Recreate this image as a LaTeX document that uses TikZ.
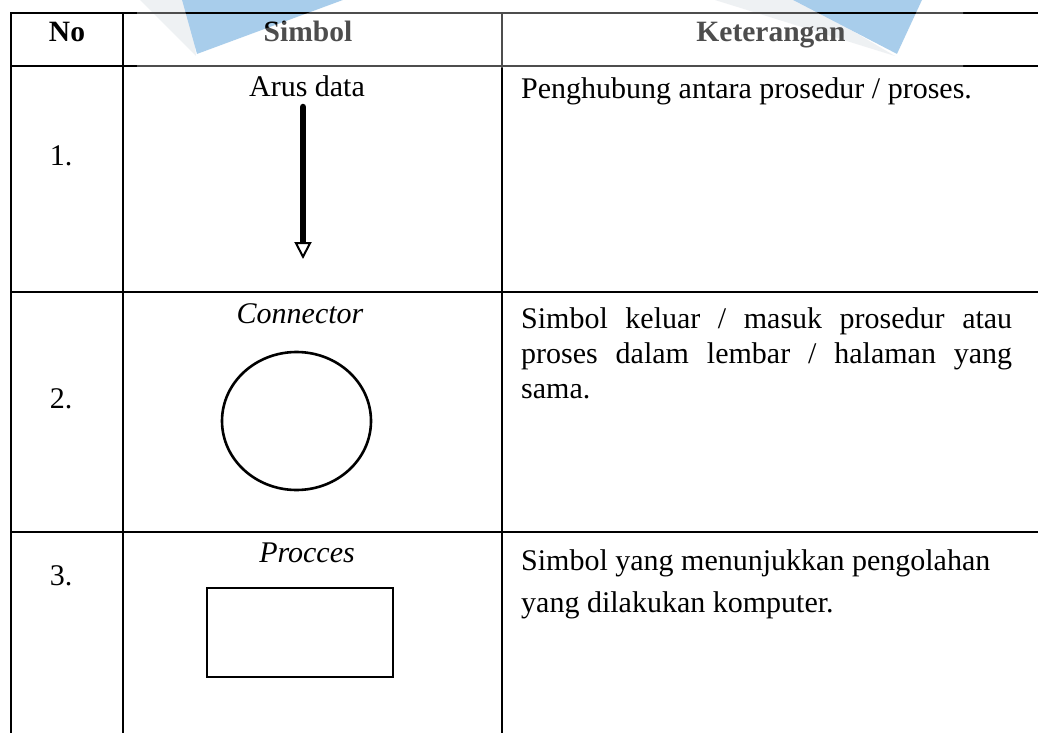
\documentclass[tikz,border=0pt]{standalone}
\usepackage{fontspec}
\setmainfont{Liberation Serif}
\usetikzlibrary{arrows.meta,shapes.geometric}
\definecolor{wmblue}{RGB}{168,205,235}
\definecolor{wmshade}{RGB}{232,235,239}

\begin{document}
\begin{tikzpicture}[x=1pt,y=-1pt,
  rule/.style={line width=2.6pt},
  shapeline/.style={line width=2.6pt},
  cell/.style={inner sep=0pt, font=\fontsize{30}{35}\selectfont},
  head/.style={inner sep=0pt, font=\fontsize{29.5}{34}\selectfont\bfseries},
  symlabel/.style={cell, anchor=base},
  desc/.style={cell, anchor=base west}]
\useasboundingbox (0,0) rectangle (1038,733);
\fill[white] (0,0) rectangle (1038,733);

% watermark shapes behind the header
\fill[wmshade] (140,0) -- (196,56) -- (190,0) -- cycle;
\fill[wmblue] (182,0) -- (197,54) -- (343,0) -- cycle;
\fill[wmshade] (715,0) -- (895,56) -- (800,0) -- cycle;
\fill[wmblue] (793,0) -- (897,54) -- (922,0) -- cycle;

% table rules
\draw[rule] (11,733) -- (11,13) -- (1038,13);
\draw[rule] (11,66) -- (1038,66);
\draw[rule] (11,292) -- (1038,292);
\draw[rule] (11,532) -- (1038,532);
\draw[rule] (123,13) -- (123,733);
\draw[rule] (502,13) -- (502,733);

% header
\node[head, anchor=base] (hno) at (67,42) {No};
\node[head, anchor=base] (hsym) at (308,42) {Simbol};
\node[head, anchor=base] (hdesc) at (771,42) {Keterangan};

% row numbers
\node[cell, anchor=base] (n1) at (61,165) {1.};
\node[cell, anchor=base] (n2) at (61,408) {2.};
\node[cell, anchor=base] (n3) at (61,585) {3.};

% row 1: data flow
\node[symlabel] (l1) at (307,97) {Arus data};
\coordinate (a1) at (303,107);
\coordinate (a2) at (303,259);
\draw[line width=6.5pt, line cap=round,
      -{Triangle[open, length=17pt, width=17pt, line width=2pt, fill=white]}] (a1) -- (a2);
\node[desc] (d1) at (521,99) {Penghubung antara prosedur / proses.};

% row 2: connector
\node[symlabel] (l2) at (300,323) {\itshape Connector};
\node[shapeline, draw, ellipse, minimum width=149pt, minimum height=138pt, inner sep=0pt] (conn) at (296.5,421) {};
\node[desc] (d2) at (521,328) {\parbox[t]{491pt}{\fontsize{30}{35}\selectfont\noindent
  Simbol keluar / masuk prosedur atau\linebreak
  proses dalam lembar / halaman yang\linebreak
  sama.}};

% row 3: process
\node[symlabel] (l3) at (307,562) {\itshape Procces};
\node[shapeline, draw, rectangle, minimum width=186pt, minimum height=89pt, inner sep=0pt] (proc) at (300,632.5) {};
\node[desc] (d3a) at (521,570) {Simbol yang menunjukkan pengolahan};
\node[desc] (d3b) at (521,612) {yang dilakukan komputer.};

% faded band over the header, leaving the blue shapes untouched
\fill[white, opacity=0.3, even odd rule]
  (137,0) rectangle (963,68)
  (182,0) -- (197,54) -- (343,0) -- cycle
  (793,0) -- (897,54) -- (922,0) -- cycle;
\end{tikzpicture}
\end{document}
